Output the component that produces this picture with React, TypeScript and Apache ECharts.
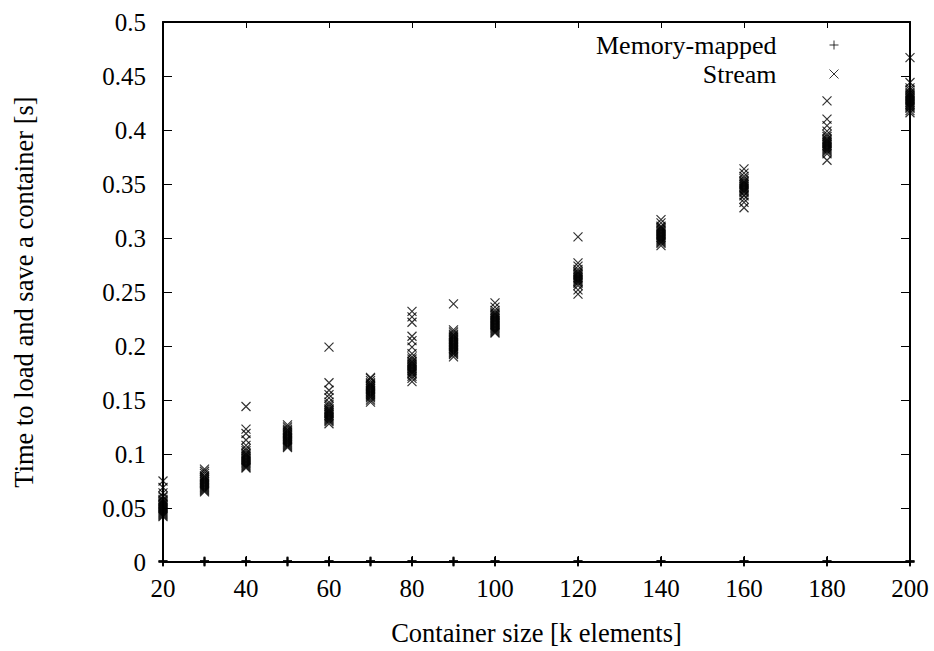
import React, { useEffect, useRef } from 'react';
import * as echarts from 'echarts';

const containerSizes = [20, 30, 40, 50, 60, 70, 80, 90, 100, 120, 140, 160, 180, 200];

const memoryMappedTimes = [
  [0, 0.0005, 0.001],
  [0, 0.0005, 0.001],
  [0, 0.0005, 0.001],
  [0, 0.0005, 0.001],
  [0, 0.0005, 0.001],
  [0, 0.0005, 0.001],
  [0, 0.0005, 0.001],
  [0, 0.0005, 0.001],
  [0, 0.0005, 0.001],
  [0, 0.0005, 0.001],
  [0, 0.0005, 0.001],
  [0, 0.0005, 0.001],
  [0, 0.0005, 0.001],
  [0, 0.0005, 0.001],
];

const streamTimes = [
  [0.075, 0.069, 0.064, 0.061, 0.06, 0.058, 0.057, 0.056, 0.055, 0.054, 0.053, 0.052, 0.051, 0.05, 0.049, 0.048, 0.047, 0.046, 0.045, 0.044, 0.043, 0.042],
  [0.086, 0.084, 0.082, 0.08, 0.079, 0.078, 0.077, 0.076, 0.075, 0.074, 0.073, 0.072, 0.071, 0.07, 0.069, 0.068, 0.067, 0.066, 0.065],
  [0.144, 0.123, 0.119, 0.113, 0.108, 0.105, 0.103, 0.101, 0.1, 0.099, 0.098, 0.097, 0.096, 0.095, 0.094, 0.093, 0.092, 0.091, 0.09, 0.089, 0.088, 0.087],
  [0.127, 0.125, 0.123, 0.122, 0.121, 0.12, 0.119, 0.118, 0.117, 0.116, 0.115, 0.114, 0.113, 0.112, 0.111, 0.11, 0.109, 0.108, 0.107, 0.106],
  [0.199, 0.166, 0.159, 0.155, 0.152, 0.148, 0.146, 0.144, 0.142, 0.141, 0.14, 0.139, 0.138, 0.137, 0.136, 0.135, 0.134, 0.133, 0.132, 0.131, 0.13, 0.128],
  [0.171, 0.17, 0.168, 0.166, 0.165, 0.164, 0.163, 0.162, 0.161, 0.16, 0.159, 0.158, 0.157, 0.156, 0.155, 0.154, 0.153, 0.152, 0.15, 0.148],
  [0.232, 0.227, 0.222, 0.209, 0.205, 0.199, 0.193, 0.19, 0.188, 0.186, 0.185, 0.184, 0.183, 0.182, 0.181, 0.18, 0.179, 0.178, 0.177, 0.176, 0.175, 0.174, 0.172, 0.17, 0.167],
  [0.239, 0.215, 0.213, 0.211, 0.21, 0.209, 0.208, 0.207, 0.206, 0.205, 0.204, 0.203, 0.202, 0.201, 0.2, 0.199, 0.198, 0.197, 0.196, 0.195, 0.194, 0.193, 0.192, 0.19],
  [0.24, 0.236, 0.233, 0.231, 0.23, 0.229, 0.228, 0.227, 0.226, 0.225, 0.224, 0.223, 0.222, 0.221, 0.22, 0.219, 0.218, 0.217, 0.216, 0.215, 0.214, 0.213, 0.212],
  [0.301, 0.277, 0.274, 0.271, 0.269, 0.268, 0.267, 0.266, 0.265, 0.264, 0.263, 0.262, 0.261, 0.26, 0.259, 0.258, 0.256, 0.252, 0.248],
  [0.317, 0.314, 0.311, 0.31, 0.309, 0.308, 0.307, 0.306, 0.305, 0.304, 0.303, 0.302, 0.301, 0.3, 0.299, 0.298, 0.297, 0.296, 0.295, 0.293],
  [0.364, 0.36, 0.357, 0.355, 0.353, 0.352, 0.351, 0.35, 0.349, 0.348, 0.347, 0.346, 0.345, 0.344, 0.343, 0.342, 0.34, 0.339, 0.336, 0.333, 0.328],
  [0.427, 0.41, 0.404, 0.399, 0.396, 0.394, 0.392, 0.391, 0.39, 0.389, 0.388, 0.387, 0.386, 0.385, 0.384, 0.383, 0.382, 0.381, 0.38, 0.378, 0.372],
  [0.467, 0.444, 0.439, 0.437, 0.435, 0.434, 0.433, 0.432, 0.431, 0.43, 0.429, 0.428, 0.427, 0.426, 0.425, 0.424, 0.423, 0.422, 0.421, 0.42, 0.418, 0.416],
];

const seriesNames = ['Memory-mapped', 'Stream'];
const xAxisTitle = 'Container size [k elements]';
const yAxisTitle = 'Time to load and save a container [s]';

const FONT = 'Liberation Serif';
const PLUS = 'path://M5,0L5,10M0,5L10,5';
const CROSS = 'path://M0,0L10,10M10,0L0,10';

function flatten(values: number[][]): number[][] {
  const out: number[][] = [];
  values.forEach((arr, i) => arr.forEach((v) => out.push([containerSizes[i], v])));
  return out;
}

export default function App() {
  const ref = useRef<HTMLDivElement>(null);
  useEffect(() => {
    if (!ref.current) return;
    const chart = echarts.init(ref.current, undefined, { renderer: 'svg' });
    const axisLine = { show: true, onZero: false, lineStyle: { color: '#000', width: 2 } };
    const xTick = { show: true, inside: true, length: 6, lineStyle: { color: '#000', width: 1 } };
    const yTick = { show: true, inside: true, length: 9, lineStyle: { color: '#000', width: 1 } };
    const streamStyle = { color: '#000', borderColor: '#000', borderWidth: 1.2 };
    const memStyle = { color: '#000', borderColor: '#000', borderWidth: 1.8 };
    const legendBase = {
      orient: 'vertical',
      align: 'right',
      right: 95,
      itemWidth: 9,
      itemHeight: 9,
      padding: 0,
      selectedMode: false,
      textStyle: { fontFamily: FONT, fontSize: 26, color: '#000', lineHeight: 26, padding: [0, 48, 0, 0] },
    };
    chart.setOption({
      animation: false,
      backgroundColor: '#fff',
      textStyle: { fontFamily: FONT },
      grid: { left: 163, right: 24, top: 22, bottom: 87 },
      legend: [
        { ...legendBase, top: 32, itemStyle: { color: '#000', borderColor: '#000', borderWidth: 1 }, data: [{ name: seriesNames[0], icon: PLUS }] },
        { ...legendBase, top: 61, itemStyle: { color: '#000', borderColor: '#000', borderWidth: 1 }, data: [{ name: seriesNames[1], icon: CROSS }] },
      ],
      xAxis: [
        {
          type: 'value', min: 20, max: 200, interval: 20, position: 'bottom',
          axisLine, axisTick: xTick, splitLine: { show: false },
          axisLabel: { fontFamily: FONT, fontSize: 25, color: '#000', margin: 14 },
          name: xAxisTitle, nameLocation: 'middle', nameGap: 57,
          nameTextStyle: { fontFamily: FONT, fontSize: 26.5, color: '#000' },
        },
        {
          type: 'value', min: 20, max: 200, interval: 20, position: 'top',
          axisLine, axisTick: xTick, splitLine: { show: false }, axisLabel: { show: false },
        },
      ],
      yAxis: [
        {
          type: 'value', min: 0, max: 0.5, interval: 0.05, position: 'left',
          axisLine, axisTick: yTick, splitLine: { show: false },
          axisLabel: { fontFamily: FONT, fontSize: 25, color: '#000', margin: 17 },
          name: yAxisTitle, nameLocation: 'middle', nameGap: 126,
          nameTextStyle: { fontFamily: FONT, fontSize: 26.5, color: '#000' },
        },
        {
          type: 'value', min: 0, max: 0.5, interval: 0.05, position: 'right',
          axisLine, axisTick: yTick, splitLine: { show: false }, axisLabel: { show: false },
        },
      ],
      series: [
        {
          name: seriesNames[0], type: 'scatter', xAxisIndex: 0, yAxisIndex: 0, z: 3,
          symbol: PLUS, symbolSize: 9, itemStyle: memStyle, clip: false,
          data: flatten(memoryMappedTimes),
        },
        {
          name: seriesNames[1], type: 'scatter', xAxisIndex: 0, yAxisIndex: 0,
          symbol: CROSS, symbolSize: 9, itemStyle: streamStyle, clip: false,
          data: flatten(streamTimes),
        },
      ],
    });
    return () => chart.dispose();
  }, []);
  return <div ref={ref} style={{ position: 'fixed', left: 0, top: 0, width: 934, height: 651 }} />;
}
